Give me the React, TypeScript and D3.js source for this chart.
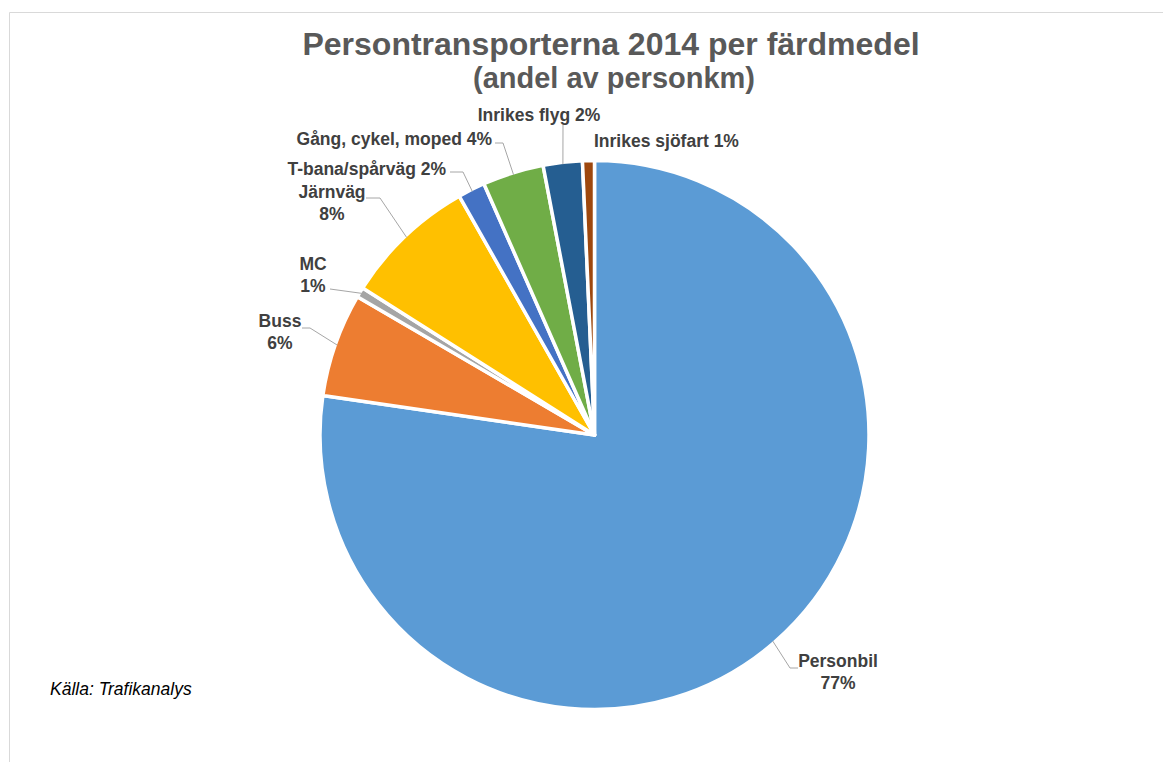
import React from "react";
import * as d3 from "d3";

const categories = [
  "Personbil",
  "Buss",
  "MC",
  "Järnväg",
  "T-bana/spårväg",
  "Gång, cykel, moped",
  "Inrikes flyg",
  "Inrikes sjöfart",
];
const shares = [77.3, 6.1, 0.6, 7.8, 1.6, 3.6, 2.3, 0.7];
const colors = ["#5B9BD5", "#ED7D31", "#A5A5A5", "#FFC000", "#4472C4", "#70AD47", "#255E91", "#9E480E"];

// label layout: x, y (first baseline), anchor, two-line?, leader [label end], [elbow]
const labelLayout = [
  { x: 838, y: 667, anchor: "middle", twoLine: true, end: [798, 668], elbow: [790, 668] },
  { x: 280, y: 327, anchor: "middle", twoLine: true, end: [302, 328], elbow: [310, 328] },
  { x: 313, y: 270, anchor: "middle", twoLine: true, end: [330, 289], elbow: [330, 289] },
  { x: 332, y: 198, anchor: "middle", twoLine: true, end: [366, 198], elbow: [380, 198] },
  { x: 446, y: 175, anchor: "end", twoLine: false, end: [450, 172], elbow: [463, 172] },
  { x: 492, y: 145, anchor: "end", twoLine: false, end: [495, 143], elbow: [503, 143] },
  { x: 539, y: 121, anchor: "middle", twoLine: false, end: [563, 125], elbow: [563, 125] },
  { x: 594, y: 147, anchor: "start", twoLine: false, end: null, elbow: null },
];

const W = 1163;
const H = 762;
const cx = 594.5;
const cy = 435;
const R = 274.5;

export default function App() {
  const data = categories.map((c, i) => ({ name: c, value: shares[i], color: colors[i], i }));
  const pie = d3.pie<any>().value((d) => d.value).sort(null).startAngle(0).endAngle(2 * Math.PI);
  const arcs = pie(data);
  const arcGen = d3.arc<any>().innerRadius(0).outerRadius(R);
  const total = d3.sum(shares);

  return (
    <svg width={W} height={H} style={{ position: "absolute", left: 0, top: 0 }} xmlns="http://www.w3.org/2000/svg">
      <rect x={0} y={0} width={W} height={H} fill="#fff" />
      <line x1={9.5} y1={12.5} x2={W} y2={12.5} stroke="#d9d9d9" strokeWidth={1} />
      <line x1={9.5} y1={12.5} x2={9.5} y2={H} stroke="#d9d9d9" strokeWidth={1} />
      <g fontFamily="Liberation Sans, Arial, sans-serif" fontWeight="bold" fill="#595959" textAnchor="middle">
        <text x={611} y={55} fontSize={32}>Persontransporterna 2014 per färdmedel</text>
        <text x={614} y={88} fontSize={29}>(andel av personkm)</text>
      </g>
      <g transform={`translate(${cx},${cy})`}>
        {arcs.map((a, i) => (
          <path key={i} d={arcGen(a) as string} fill={a.data.color} stroke="#fff" strokeWidth={3.5} strokeLinejoin="round" />
        ))}
      </g>
      <g fill="none" stroke="#a6a6a6" strokeWidth={1}>
        {arcs.map((a, i) => {
          const L = labelLayout[i];
          if (!L.end) return null;
          const mid = (a.startAngle + a.endAngle) / 2;
          const px = cx + (R - 2) * Math.sin(mid);
          const py = cy - (R - 2) * Math.cos(mid);
          const pts = [L.end, L.elbow, [px, py]];
          return <polyline key={i} points={pts.map((p) => p!.join(",")).join(" ")} />;
        })}
      </g>
      <g fontFamily="Liberation Sans, Arial, sans-serif" fontWeight="bold" fontSize={17.5} fill="#404040">
        {arcs.map((a, i) => {
          const L = labelLayout[i];
          const pct = Math.round((a.data.value / total) * 100) + "%";
          if (L.twoLine) {
            return (
              <text key={i} x={L.x} y={L.y} textAnchor={L.anchor as any}>
                <tspan x={L.x}>{a.data.name}</tspan>
                <tspan x={L.x} dy={22}>{pct}</tspan>
              </text>
            );
          }
          return (
            <text key={i} x={L.x} y={L.y} textAnchor={L.anchor as any}>
              {a.data.name + " " + pct}
            </text>
          );
        })}
      </g>
      <text x={50} y={695} fontFamily="Liberation Sans, Arial, sans-serif" fontStyle="italic" fontSize={17.5} fill="#000">
        Källa: Trafikanalys
      </text>
    </svg>
  );
}
